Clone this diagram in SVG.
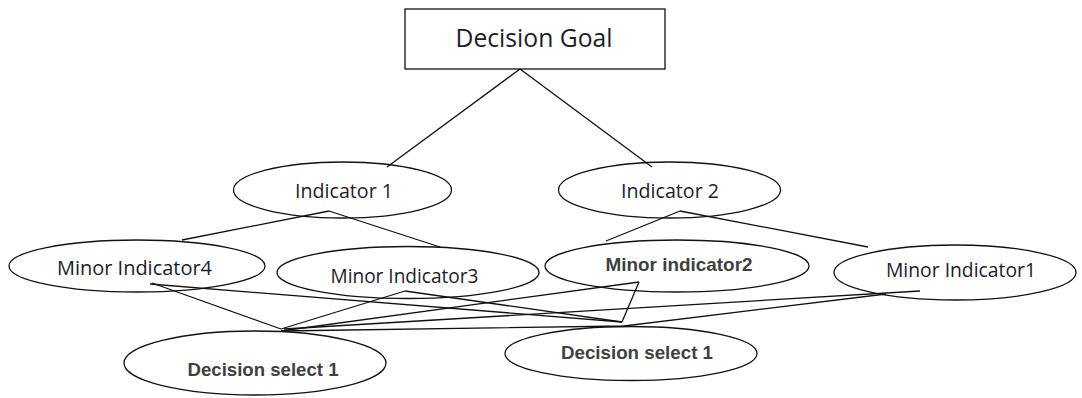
<svg xmlns="http://www.w3.org/2000/svg" width="1082" height="398" viewBox="0 0 1082 398">
<style>
.node{fill:#fff;stroke:#111;stroke-width:1.3}
.t{font-family:"Open Sans","Noto Sans",sans-serif;fill:#1c1c2a;text-anchor:middle;font-size:19.5px}
.b{font-family:"Liberation Sans",Arial,sans-serif;font-weight:bold;fill:#404040;text-anchor:middle;font-size:19px}
.conn line,.conn polyline{stroke:#111;stroke-width:1.3;fill:none}
</style>
<rect width="1082" height="398" fill="#fff"/>
<g id="goal"><rect class="node" x="405" y="9" width="260" height="60"/><text class="t" x="534" y="47" style="font-size:25px" textLength="157" lengthAdjust="spacingAndGlyphs">Decision Goal</text></g>
<g id="ind1"><ellipse class="node" cx="342.5" cy="190" rx="109" ry="28"/><text class="t" x="344" y="198" textLength="98" lengthAdjust="spacingAndGlyphs">Indicator 1</text></g>
<g id="ind2"><ellipse class="node" cx="669.5" cy="190" rx="111" ry="28"/><text class="t" x="670" y="198" textLength="98" lengthAdjust="spacingAndGlyphs">Indicator 2</text></g>
<g id="mi4"><ellipse class="node" cx="137" cy="266" rx="128" ry="26"/><text class="t" x="134.5" y="275" textLength="155" lengthAdjust="spacingAndGlyphs">Minor Indicator4</text></g>
<g id="mi3"><ellipse class="node" cx="408" cy="272.5" rx="131" ry="26"/><text class="t" x="404.5" y="283" textLength="148" lengthAdjust="spacingAndGlyphs">Minor Indicator3</text></g>
<g id="mi2"><ellipse class="node" cx="677" cy="266" rx="132" ry="26"/><text class="b" x="679" y="271" textLength="147" lengthAdjust="spacingAndGlyphs">Minor indicator2</text></g>
<g id="mi1"><ellipse class="node" cx="955" cy="272.5" rx="121" ry="27.5"/><text class="t" x="961" y="277" textLength="150" lengthAdjust="spacingAndGlyphs">Minor Indicator1</text></g>
<g id="ds1"><ellipse class="node" cx="255" cy="363" rx="131" ry="32"/><text class="b" x="263" y="376" textLength="151" lengthAdjust="spacingAndGlyphs">Decision select 1</text></g>
<g id="ds2"><ellipse class="node" cx="631" cy="353.5" rx="126" ry="27"/><text class="b" x="637" y="359" textLength="152" lengthAdjust="spacingAndGlyphs">Decision select 1</text></g>
<g id="connectors" class="conn">
<line x1="520" y1="69" x2="387" y2="167"/>
<line x1="520" y1="69" x2="652" y2="167"/>
<line x1="329" y1="211" x2="182" y2="240"/>
<line x1="329" y1="211" x2="440" y2="247"/>
<line x1="680" y1="211" x2="606" y2="241"/>
<line x1="680" y1="211" x2="868" y2="247"/>
<line x1="152" y1="283" x2="281" y2="329"/>
<line x1="150" y1="284" x2="622" y2="322"/>
<line x1="405" y1="291" x2="281" y2="329"/>
<line x1="405" y1="291" x2="622" y2="322"/>
<line x1="639" y1="282" x2="281" y2="331"/>
<line x1="639" y1="282" x2="622" y2="322"/>
<line x1="920" y1="291" x2="284" y2="329"/>
<polyline points="886,294 624,326 281,331"/>
</g>
</svg>
